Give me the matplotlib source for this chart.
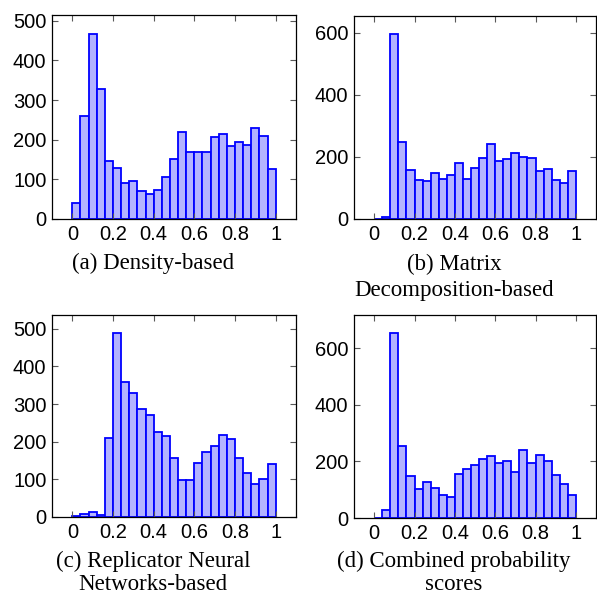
import numpy as np
import matplotlib
matplotlib.use('Agg')
import matplotlib.pyplot as plt

# bin edges shared by the four histograms (25 bins on [0, 1])
edges = np.linspace(0, 1, 26)

# counts per bin
dens = [41, 261, 468, 327, 147, 128, 91, 96, 70, 63, 72, 106, 152,
        220, 168, 168, 168, 206, 215, 184, 195, 188, 229, 209, 126]
matrix = [1, 6, 595, 249, 158, 126, 122, 148, 129, 142, 181, 129, 166,
          196, 242, 187, 194, 213, 201, 198, 155, 162, 126, 117, 155]
rnn = [2, 9, 12, 5, 211, 488, 358, 329, 286, 271, 227, 215, 158,
       98, 99, 143, 174, 190, 217, 206, 157, 116, 87, 101, 142]
comb = [1, 28, 653, 256, 149, 101, 128, 105, 82, 73, 156, 174, 189,
        209, 219, 194, 202, 162, 239, 196, 222, 202, 153, 121, 83]

xticks = [0, 0.2, 0.4, 0.6, 0.8, 1]
xticklabels = ['0', '0.2', '0.4', '0.6', '0.8', '1']
yticks_a = [0, 100, 200, 300, 400, 500]
yticks_b = [0, 200, 400, 600]

captions = [['(a) Density-based'],
            ['(b) Matrix', 'Decomposition-based'],
            ['(c) Replicator Neural', 'Networks-based'],
            ['(d) Combined probability', 'scores']]

W = H = 597
fig = plt.figure(figsize=(W / 100, H / 100), dpi=100)
fig.set_facecolor('w')

# axes boxes in pixels: left, top, right, bottom
boxes = [(52, 15, 296, 219), (354, 16, 596, 219),
         (52, 315, 296, 517), (354, 315, 596, 518)]
# caption centre x, first baseline y and line step, in pixels
capos = [(153, 269, 26), (454, 270, 26), (153, 567, 23), (454, 567, 23)]

datos = [dens, matrix, rnn, comb]
ytk = [yticks_a, yticks_b, yticks_a, yticks_b]

for i, (counts, box) in enumerate(zip(datos, boxes)):
    l, t, r, b = box
    ax = fig.add_axes([l / W, 1 - b / H, (r - l) / W, (b - t) / H])
    ax.bar(edges[:-1], counts, width=edges[1] - edges[0], align='edge',
           facecolor=(0.7, 0.7, 1.0), edgecolor=(0, 0, 1), linewidth=1.3)
    ax.set_xlim(-0.1, 1.1)
    ax.set_ylim(0, max(counts) * 1.1)
    ax.set_xticks(xticks)
    ax.set_xticklabels(xticklabels)
    ax.set_yticks(ytk[i])
    ax.tick_params(direction='in', top=True, right=True, length=4,
                   width=0.8, color='0.35', labelsize=14.5, pad=4)
    for lab in ax.get_xticklabels() + ax.get_yticklabels():
        lab.set_fontfamily('Liberation Sans')
    for s in ax.spines.values():
        s.set_linewidth(0.9)
    cx, cy, paso = capos[i]
    for j, linea in enumerate(captions[i]):
        fig.text(cx / W, 1 - (cy + paso * j) / H, linea, ha='center',
                 va='baseline', fontsize=16.5, family='Liberation Serif')

fig.savefig('out.png', dpi=100)
